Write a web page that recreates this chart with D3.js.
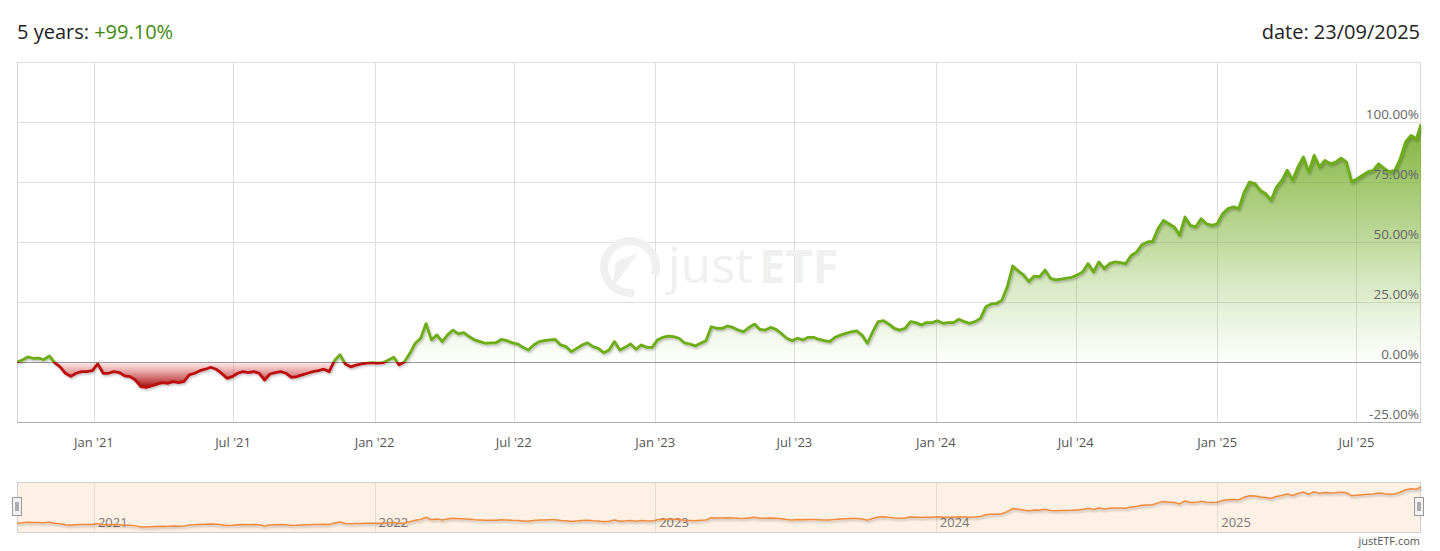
<!DOCTYPE html>
<html><head><meta charset="utf-8">
<script src="https://cdn.jsdelivr.net/npm/d3@7/dist/d3.min.js"></script>
<style>
html,body{margin:0;padding:0;background:#fff;}
svg{display:block;font-family:"Open Sans",sans-serif;}
</style></head>
<body>
<svg id="chart" width="1440" height="551"></svg>
<script>
// ---------- data ----------
const startDate = "2020-09-23";
const endDate = "2025-09-23";
// weekly performance (%), starting at startDate, one value per 7 days
const weeklyValues = [
 0,0.8,2.1,1.5,1.6,1.0,2.5,-0.3,-2,-4.7,
 -6,-4.7,-4,-4,-3.6,-0.8,-4.7,-4.7,-4,-4.4,
 -5.8,-6.1,-7.5,-10.3,-10.6,-10,-9.2,-8.6,-8.9,-8.2,
 -8.6,-8.2,-5.4,-4.7,-3.6,-3,-2.2,-3,-4.7,-6.8,
 -6.1,-4.7,-4,-4.4,-4,-4.7,-7.5,-5,-4.4,-4,
 -4.7,-6.4,-6.1,-5.4,-4.7,-4,-3.6,-3,-4,0.6,
 3,-0.8,-2,-1.3,-0.8,-0.5,-0.3,-0.5,-0.3,0.8,
 2,-1.2,0.1,3.6,7.8,9.9,16,9.2,11.3,8.5,
 11.3,13.3,11.7,12.2,10.6,9.2,8.5,7.8,8,8,
 9.4,8.9,8,7.5,6.1,5,7.1,8.5,8.9,9.2,
 9.4,7.1,6.4,4.3,5.7,7.1,8,6.4,5.7,3.9,
 5,8.5,5,6.1,7.5,5.3,7.1,6.1,6.1,9.2,
 10.3,10.8,10.6,9.9,8,7.5,6.7,7.8,8.9,14.7,
 14,14,15,14.4,13.3,12.6,14.4,15.8,13.6,13.3,
 14.4,13.6,11.9,9.9,8.9,9.9,9.2,10.3,10.3,9.4,
 8.9,8.5,10.3,11.2,11.9,12.6,13,11.2,7.8,12.6,
 16.8,17.2,15.8,14,13.3,14,16.8,16.4,15.4,16.4,
 16.4,17.2,16.1,16.4,16.4,17.8,16.8,16.1,16.8,18.2,
 23,24.2,24.4,25.8,31.4,40,38,36.3,33.5,35.8,
 35.6,38.3,34.9,34.2,34.5,34.9,35.3,36.3,37.5,41,
 37.5,41.7,38.9,41,41.7,41.4,41,44.4,45.8,48.9,
 50,50.3,55.6,59,57.6,56.3,52.8,60.4,56.9,56.3,
 59.7,57.6,56.9,57.6,61.8,63.9,64.6,63.9,70.8,75,
 74.3,71.5,70.1,67.4,72.9,75.7,79.9,75.7,81.3,85.4,
 79.2,86.1,81.3,84,82.6,83.3,85,83.3,75,76.4,
 77.8,79.2,79.9,82.6,80.6,79.2,79.9,84.7,91.7,94.4,
 93
];
const finalValue = 99.1;
const yTicks = [-25, 0, 25, 50, 75, 100];
const yTickLabels = ["-25.00%","0.00%","25.00%","50.00%","75.00%","100.00%"];
const xTickDates = ["2021-01-01","2021-07-01","2022-01-01","2022-07-01","2023-01-01","2023-07-01","2024-01-01","2024-07-01","2025-01-01","2025-07-01"];
const xTickLabels = ["Jan '21","Jul '21","Jan '22","Jul '22","Jan '23","Jul '23","Jan '24","Jul '24","Jan '25","Jul '25"];
const navYearDates = ["2021-01-01","2022-01-01","2023-01-01","2024-01-01","2025-01-01"];
const navYearLabels = ["2021","2022","2023","2024","2025"];
const titleLabel = "5 years: ";
const titleValue = "+99.10%";
const dateLabel = "date: 23/09/2025";

// ---------- build series ----------
const parse = d3.utcParse("%Y-%m-%d");
const t0 = parse(startDate), t1 = parse(endDate);
const series = weeklyValues.map((v,i)=>({date:d3.utcDay.offset(t0, 7*i), value:v}));
series.push({date:t1, value:finalValue});

// ---------- layout ----------
const L = 17, R = 1421, T = 62, B = 422;
const svg = d3.select("#chart");
const x = d3.scaleUtc().domain([t0,t1]).range([L,R]);
const y = d3.scaleLinear().domain([-25,125]).range([B,T]);

const defs = svg.append("defs");
const gG = defs.append("linearGradient").attr("id","gGreen").attr("gradientUnits","userSpaceOnUse")
  .attr("x1",0).attr("x2",0).attr("y1",y(100)).attr("y2",y(0));
gG.append("stop").attr("offset",0).attr("stop-color","#6fa922").attr("stop-opacity",0.9);
gG.append("stop").attr("offset",0.5).attr("stop-color","#7fb53a").attr("stop-opacity",0.5);
gG.append("stop").attr("offset",1).attr("stop-color","#9cc76a").attr("stop-opacity",0.02);
const gR = defs.append("linearGradient").attr("id","gRed").attr("gradientUnits","userSpaceOnUse")
  .attr("x1",0).attr("x2",0).attr("y1",y(0)).attr("y2",y(-11));
gR.append("stop").attr("offset",0).attr("stop-color","#d44").attr("stop-opacity",0.1);
gR.append("stop").attr("offset",1).attr("stop-color","#a00000").attr("stop-opacity",1);
defs.append("clipPath").attr("id","clipPos").append("rect").attr("x",L).attr("y",T).attr("width",R-L).attr("height",y(0)-T);
defs.append("clipPath").attr("id","clipNeg").append("rect").attr("x",L).attr("y",y(0)).attr("width",R-L).attr("height",B-y(0));
const sh = defs.append("filter").attr("id","shadow").attr("x","-5%").attr("y","-20%").attr("width","110%").attr("height","140%");
sh.append("feDropShadow").attr("dx",1).attr("dy",1.5).attr("stdDeviation",0.9).attr("flood-color","#000").attr("flood-opacity",0.28);

// header
const title = svg.append("text").attr("x",17).attr("y",39).attr("font-size",20).attr("fill","#222");
title.append("tspan").text(titleLabel);
title.append("tspan").attr("fill","#3f8a0c").text(titleValue);
svg.append("text").attr("x",1420).attr("y",39).attr("text-anchor","end").attr("font-size",20).attr("fill","#222").text(dateLabel);

// grid
const grid = svg.append("g");
grid.selectAll("line.h").data(yTicks.concat([125])).join("line")
  .attr("x1",L).attr("x2",R).attr("y1",d=>y(d)+0.5).attr("y2",d=>y(d)+0.5)
  .attr("stroke","#dedede").attr("stroke-width",1);
grid.selectAll("line.v").data(xTickDates).join("line")
  .attr("x1",d=>Math.round(x(parse(d)))+0.5).attr("x2",d=>Math.round(x(parse(d)))+0.5)
  .attr("y1",T).attr("y2",B).attr("stroke","#dedede");
grid.append("line").attr("x1",L+0.5).attr("x2",L+0.5).attr("y1",T).attr("y2",B).attr("stroke","#d6d6d6");
grid.append("line").attr("x1",R-0.5).attr("x2",R-0.5).attr("y1",T).attr("y2",B).attr("stroke","#d6d6d6");

// watermark
const wm = svg.append("g").attr("fill","#f0f0f0").attr("stroke","none");
const arc = d3.arc().innerRadius(22).outerRadius(30).startAngle(Math.PI*0.95).endAngle(Math.PI*2.6);
wm.append("path").attr("d",arc()).attr("transform","translate(630,267)");
wm.append("path").attr("d","M612,289 L616,262 L638,253 Z");
wm.append("text").attr("x",668).attr("y",283).attr("font-size",50).attr("font-family","Open Sans").text("just");
wm.append("text").attr("x",759).attr("y",283).attr("font-size",47).attr("font-weight",700).attr("font-family","Open Sans").text("ETF");

// areas
const area = d3.area().x(d=>x(d.date)).y0(y(0)).y1(d=>y(d.value));
const line = d3.line().x(d=>x(d.date)).y(d=>y(d.value));
svg.append("path").datum(series).attr("d",area).attr("fill","url(#gGreen)").attr("clip-path","url(#clipPos)");
svg.append("path").datum(series).attr("d",area).attr("fill","url(#gRed)").attr("clip-path","url(#clipNeg)");

// zero line & bottom axis
svg.append("line").attr("x1",L).attr("x2",R).attr("y1",y(0)+0.5).attr("y2",y(0)+0.5).attr("stroke","#9a9a9a");
svg.append("line").attr("x1",L).attr("x2",R).attr("y1",B+0.5).attr("y2",B+0.5).attr("stroke","#b0b0b0");

// lines
const lg = svg.append("g").attr("filter","url(#shadow)");
lg.append("path").datum(series).attr("d",line).attr("fill","none").attr("stroke","#6cac12").attr("stroke-width",2.8)
  .attr("stroke-linejoin","round").attr("clip-path","url(#clipPos)");
lg.append("path").datum(series).attr("d",line).attr("fill","none").attr("stroke","#bb1010").attr("stroke-width",2.8)
  .attr("stroke-linejoin","round").attr("clip-path","url(#clipNeg)");

// y labels
svg.selectAll("text.yl").data(yTicks).join("text").attr("class","yl")
  .attr("x",1419).attr("y",d=>y(d)-3).attr("text-anchor","end").attr("font-size",13.5).attr("fill","#666")
  .text((d,i)=>yTickLabels[i]);
// x labels
svg.selectAll("text.xl").data(xTickDates).join("text").attr("class","xl")
  .attr("x",d=>x(parse(d))).attr("y",447).attr("text-anchor","middle").attr("font-size",13).attr("fill","#555")
  .text((d,i)=>xTickLabels[i]);

// navigator
const NT = 482, NB = 532;
const ny = d3.scaleLinear().domain(d3.extent(series,d=>d.value)).range([527,487]);
svg.append("rect").attr("x",L+0.5).attr("y",NT+0.5).attr("width",R-L-1).attr("height",NB-NT).attr("fill","#fdf0e4").attr("stroke","#cfcfcf");
svg.selectAll("line.ny").data(navYearDates).join("line")
  .attr("x1",d=>Math.round(x(parse(d)))+0.5).attr("x2",d=>Math.round(x(parse(d)))+0.5)
  .attr("y1",NT+1).attr("y2",NB).attr("stroke","#e6dcd2");
svg.selectAll("text.nyl").data(navYearDates).join("text")
  .attr("x",d=>x(parse(d))+4).attr("y",527).attr("font-size",13).attr("fill","#7a7a7a")
  .text((d,i)=>navYearLabels[i]);
const nline = d3.line().x(d=>x(d.date)).y(d=>ny(d.value));
svg.append("path").datum(series).attr("d",nline).attr("fill","none").attr("stroke","#f08a3c").attr("stroke-width",1.5)
  .attr("filter","url(#shadow)");
// handles
[[12,497],[1414,497]].forEach(([hx,hy])=>{
  const h = svg.append("g").attr("transform",`translate(${hx},${hy})`);
  h.append("rect").attr("x",0.5).attr("y",0.5).attr("width",9).attr("height",18).attr("fill","#f2f2f2").attr("stroke","#999");
  h.append("line").attr("x1",4).attr("x2",4).attr("y1",5).attr("y2",14).attr("stroke","#666");
  h.append("line").attr("x1",6).attr("x2",6).attr("y1",5).attr("y2",14).attr("stroke","#666");
});
svg.append("text").attr("x",1420).attr("y",545).attr("text-anchor","end").attr("font-size",11).attr("fill","#555").text("justETF.com");
</script>
</body></html>
